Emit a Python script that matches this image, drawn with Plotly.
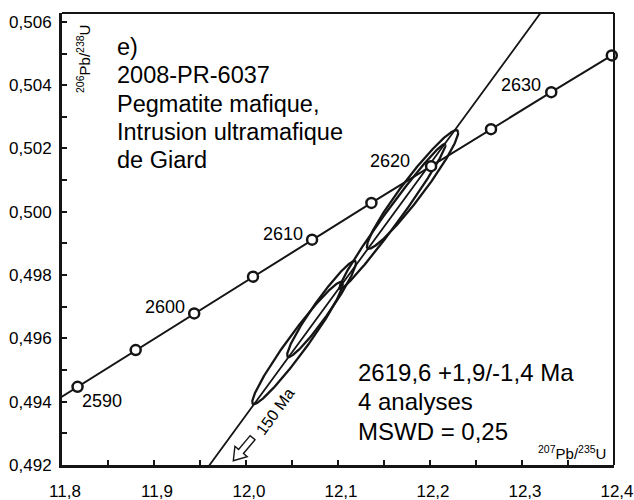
import math
import numpy as np
import plotly.graph_objects as go

# ---------------- data ----------------
# Concordia ticks (Ma) and their 207Pb/235U, 206Pb/238U coordinates
conc_age = [2585, 2590, 2595, 2600, 2605, 2610, 2615, 2620, 2625, 2630, 2635]
conc_x = [11.7539, 11.8169, 11.8801, 11.9437, 12.0076, 12.0718, 12.1363,
          12.2012, 12.2663, 12.3318, 12.3976]
conc_y = [0.49332, 0.49447, 0.49563, 0.49679, 0.49795, 0.49912, 0.50028,
          0.50144, 0.50261, 0.50378, 0.50494]
labelled_ages = [2590, 2600, 2610, 2620, 2630]

# Discordia: lower intercept (150 Ma) and a point above the upper intercept
disc_x = [0.1592, 12.4000]
disc_y = [0.02354, 0.50945]

# Analyses (error ellipses): centre, 2-sigma, correlation
ell_x = [12.0560, 12.0821, 12.1592, 12.1810]
ell_sx = [0.0492, 0.0374, 0.0576, 0.0496]
ell_y = [0.495855, 0.496929, 0.499851, 0.500705]
ell_sy = [0.001934, 0.00152, 0.00229, 0.001876]
ell_rho = [0.965, 0.958, 0.985, 0.958]

title_lines = ["e)", "2008-PR-6037", "Pegmatite mafique,",
               "Intrusion ultramafique", "de Giard"]
result_lines = ["2619,6 +1,9/-1,4 Ma", "4 analyses", "MSWD = 0,25"]

X_RANGE = [11.8, 12.4]
Y_RANGE = [0.492, 0.50628]

FONT = "Liberation Sans, Arial, sans-serif"
INK = "#151515"

fig = go.Figure()

# discordia
fig.add_trace(go.Scatter(x=disc_x, y=disc_y, mode="lines",
                         line=dict(color=INK, width=1.8),
                         hoverinfo="skip", showlegend=False))

# ellipses
t = np.linspace(0, 2 * np.pi, 361)
for cx, sx, cy, sy, r in zip(ell_x, ell_sx, ell_y, ell_sy, ell_rho):
    ex = cx + sx * np.cos(t)
    ey = cy + sy * (r * np.cos(t) + math.sqrt(1 - r * r) * np.sin(t))
    fig.add_trace(go.Scatter(x=ex, y=ey, mode="lines",
                             line=dict(color=INK, width=2.3),
                             hoverinfo="skip", showlegend=False))

# concordia line
fig.add_trace(go.Scatter(x=conc_x, y=conc_y, mode="lines",
                         line=dict(color=INK, width=2),
                         hoverinfo="skip", showlegend=False))
# concordia age markers (inside plot range)
mx = [x for x in conc_x if x >= X_RANGE[0]]
my = [y for x, y in zip(conc_x, conc_y) if x >= X_RANGE[0]]
fig.add_trace(go.Scatter(x=mx, y=my, mode="markers", cliponaxis=False,
                         marker=dict(symbol="circle", size=10, color="white",
                                     line=dict(color=INK, width=2.5)),
                         hoverinfo="skip", showlegend=False))

annotations = []
# age labels
offsets = {2590: (24, -14), 2600: (-29, 6), 2610: (-29, 6),
           2620: (-41, 5), 2630: (-30, 7)}
for age in labelled_ages:
    i = conc_age.index(age)
    dx, dy = offsets[age]
    annotations.append(dict(x=conc_x[i], y=conc_y[i], xref="x", yref="y",
                            text=str(age), showarrow=False,
                            xshift=dx, yshift=dy,
                            font=dict(family=FONT, size=18, color="black")))

# title block (top-left)
H = 452.0
def py(p):
    return (465 - p) / H

for k, line in enumerate(title_lines):
    annotations.append(dict(x=(115 - 62) / 552.0, y=py(47 + 28.3 * k),
                            xref="paper", yref="paper", xanchor="left",
                            yanchor="middle", text=line, showarrow=False,
                            font=dict(family=FONT, size=23.5, color="black")))

for k, line in enumerate(result_lines):
    annotations.append(dict(x=(356 - 62) / 552.0, y=py(372 + 29.5 * k),
                            xref="paper", yref="paper", xanchor="left",
                            yanchor="middle", text=line, showarrow=False,
                            font=dict(family=FONT, size=24, color="black")))

# axis titles inside the frame
annotations.append(dict(x=(83 - 62) / 552.0, y=py(59), xref="paper", yref="paper",
                        text="<sup>206</sup>Pb/<sup>238</sup>U", textangle=-90,
                        showarrow=False, xanchor="center", yanchor="middle",
                        font=dict(family=FONT, size=15, color="black")))
annotations.append(dict(x=(608 - 62) / 552.0, y=py(452), xref="paper", yref="paper",
                        text="<sup>207</sup>Pb/<sup>235</sup>U",
                        showarrow=False, xanchor="right", yanchor="middle",
                        font=dict(family=FONT, size=15, color="black")))

# 150 Ma label along discordia
annotations.append(dict(x=12.0277, y=0.49377, xref="x", yref="y",
                        text="150 Ma", textangle=-54, showarrow=False,
                        xshift=4, yshift=-3,
                        font=dict(family=FONT, size=16, color="black")))

# hollow arrow pointing to lower intercept
def arrow_path(angle_deg, length=30, shaft=3.2, head=8, head_len=12):
    a = math.radians(angle_deg)
    d = (math.cos(a), math.sin(a))
    n = (-math.sin(a), math.cos(a))
    pts_local = [(0, -shaft), (length - head_len, -shaft), (length - head_len, -head),
                 (length, 0), (length - head_len, head), (length - head_len, shaft),
                 (0, shaft)]
    pts = []
    for u, v in pts_local:
        u -= length / 2
        pts.append((u * d[0] + v * n[0], u * d[1] + v * n[1]))
    s = "M " + " L ".join(f"{px:.2f},{pyy:.2f}" for px, pyy in pts) + " Z"
    return s

shapes = [
    dict(type="path", xref="x", yref="y", xsizemode="pixel", ysizemode="pixel",
         xanchor=11.9967, yanchor=0.4925, path=arrow_path(180 + 50),
         line=dict(color=INK, width=1.4), fillcolor="white", layer="above"),
    # top and right frame lines
    dict(type="line", xref="paper", yref="paper", x0=0, x1=1, y0=1, y1=1,
         line=dict(color=INK, width=2)),
    dict(type="line", xref="paper", yref="paper", x0=1, x1=1, y0=0, y1=1,
         line=dict(color=INK, width=2)),
]

fig.update_layout(
    width=634, height=500,
    margin=dict(l=62, r=20, t=13, b=35, autoexpand=False),
    paper_bgcolor="white", plot_bgcolor="white",
    separators=", ",
    font=dict(family=FONT, color="black"),
    annotations=annotations, shapes=shapes,
    xaxis=dict(range=X_RANGE, showgrid=False, zeroline=False, automargin=False,
               showline=True, linecolor=INK, linewidth=3,
               ticks="inside", ticklen=5, tickwidth=2, tickcolor=INK,
               tick0=11.8, dtick=0.1, tickformat=".1f",
               tickfont=dict(family=FONT, size=17, color="black"),
               ticklabelstandoff=9, ticklabelshift=3,
               minor=dict(ticks="inside", ticklen=5, tickwidth=2, tickcolor=INK,
                          dtick=0.05, tick0=11.8, showgrid=False)),
    yaxis=dict(range=Y_RANGE, showgrid=False, zeroline=False, automargin=False,
               showline=True, linecolor=INK, linewidth=3,
               ticks="inside", ticklen=5, tickwidth=2, tickcolor=INK,
               tick0=0.492, dtick=0.002, tickformat=".3f",
               tickfont=dict(family=FONT, size=17, color="black"),
               ticklabelstandoff=4,
               minor=dict(ticks="inside", ticklen=5, tickwidth=2, tickcolor=INK,
                          dtick=0.001, tick0=0.492, showgrid=False)),
)

fig.write_html("out.html")
